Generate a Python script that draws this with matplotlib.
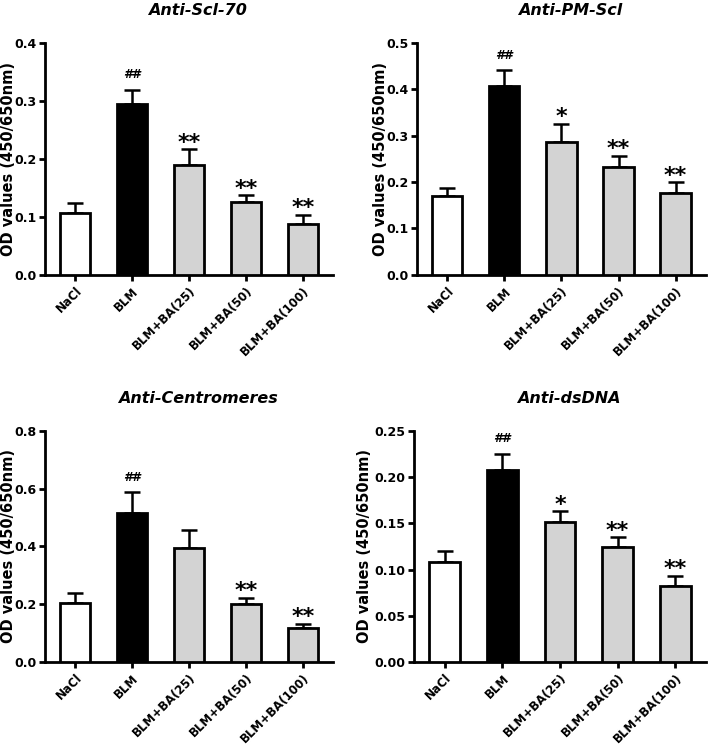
import numpy as np
import matplotlib
matplotlib.use("Agg")
import matplotlib.pyplot as plt
import matplotlib.transforms as mtransforms

plt.rcParams['font.family'] = 'DejaVu Sans'
plt.rcParams['font.weight'] = 'bold'
plt.rcParams['axes.labelweight'] = 'bold'
plt.rcParams['axes.titleweight'] = 'bold'

# groups and colours
groups = ['NaCl', 'BLM', 'BLM+BA(25)', 'BLM+BA(50)', 'BLM+BA(100)']
bar_colors = ['white', 'black', '#d3d3d3', '#d3d3d3', '#d3d3d3']

# values (mean, upper SEM)
scl70_mean = [0.107, 0.294, 0.189, 0.125, 0.088]
scl70_err = [0.016, 0.025, 0.027, 0.012, 0.015]
scl70_marks = ['', '##', '**', '**', '**']

pmscl_mean = [0.169, 0.407, 0.287, 0.233, 0.176]
pmscl_err = [0.017, 0.033, 0.038, 0.023, 0.023]
pmscl_marks = ['', '##', '*', '**', '**']

centro_mean = [0.204, 0.515, 0.394, 0.201, 0.119]
centro_err = [0.035, 0.072, 0.063, 0.021, 0.013]
centro_marks = ['', '##', '', '**', '**']

dsdna_mean = [0.108, 0.208, 0.151, 0.124, 0.082]
dsdna_err = [0.012, 0.017, 0.012, 0.011, 0.0115]
dsdna_marks = ['', '##', '*', '**', '**']

panels = [
    ('Anti-Scl-70', scl70_mean, scl70_err, scl70_marks, 0.4, 0.1, '%.1f'),
    ('Anti-PM-Scl', pmscl_mean, pmscl_err, pmscl_marks, 0.5, 0.1, '%.1f'),
    ('Anti-Centromeres', centro_mean, centro_err, centro_marks, 0.8, 0.2, '%.1f'),
    ('Anti-dsDNA', dsdna_mean, dsdna_err, dsdna_marks, 0.25, 0.05, '%.2f'),
]

# axes rectangles in figure fractions, and x of the y-label's right edge
rects = [
    [0.0636, 0.632, 0.407, 0.311],
    [0.589, 0.632, 0.408, 0.311],
    [0.0636, 0.114, 0.407, 0.309],
    [0.585, 0.114, 0.412, 0.309],
]
ylabel_x = [0.022, 0.548, 0.022, 0.526]

fig = plt.figure(figsize=(7.08, 7.47), dpi=100)

for (title, mean, err, marks, ymax, step, fmt), rect, lx in zip(panels, rects, ylabel_x):
    ax = fig.add_axes(rect)
    x = np.arange(len(groups))
    ax.bar(x, mean, width=0.53, color=bar_colors, edgecolor='black',
           linewidth=2.0, zorder=3)
    ax.errorbar(x, mean, yerr=[np.zeros(len(mean)), err], fmt='none',
                ecolor='black', elinewidth=1.8, capsize=5.5, capthick=1.8,
                zorder=2)
    for xi, m, e, s in zip(x, mean, err, marks):
        if s == '##':
            ax.annotate(s, (xi, m + e), xytext=(0, 8.5), textcoords='offset points',
                        ha='center', va='baseline', fontsize=9,
                        fontstyle='italic')
        elif s:
            ax.annotate(s, (xi, m + e), xytext=(0, 0.5), textcoords='offset points',
                        ha='center', va='baseline', fontsize=16)

    ax.set_xlim(-0.53, 4.53)
    ax.set_ylim(0, ymax)
    ax.set_yticks(np.arange(0, ymax + step / 2, step))
    ax.yaxis.set_major_formatter(matplotlib.ticker.FormatStrFormatter(fmt))
    ax.set_xticks(x)
    ax.set_xticklabels(groups, rotation=45, ha='right', rotation_mode='anchor',
                       fontsize=8.5)
    ax.tick_params(axis='y', labelsize=9)
    ax.tick_params(axis='both', direction='out', length=4.5, width=2, pad=1.5)
    ax.tick_params(axis='x', pad=2.5)
    ax.spines['top'].set_visible(False)
    ax.spines['right'].set_visible(False)
    ax.spines['left'].set_linewidth(2)
    ax.spines['bottom'].set_linewidth(2)
    ax.set_ylabel('OD values (450/650nm)', fontsize=10.5, fontweight='bold')
    trans = mtransforms.blended_transform_factory(fig.transFigure, ax.transAxes)
    ax.yaxis.set_label_coords(lx, 0.5, transform=trans)
    ax.set_title(title, fontsize=11.5, fontstyle='italic', fontweight='bold',
                 x=0.53, pad=20)

fig.savefig('out.png', dpi=100)
